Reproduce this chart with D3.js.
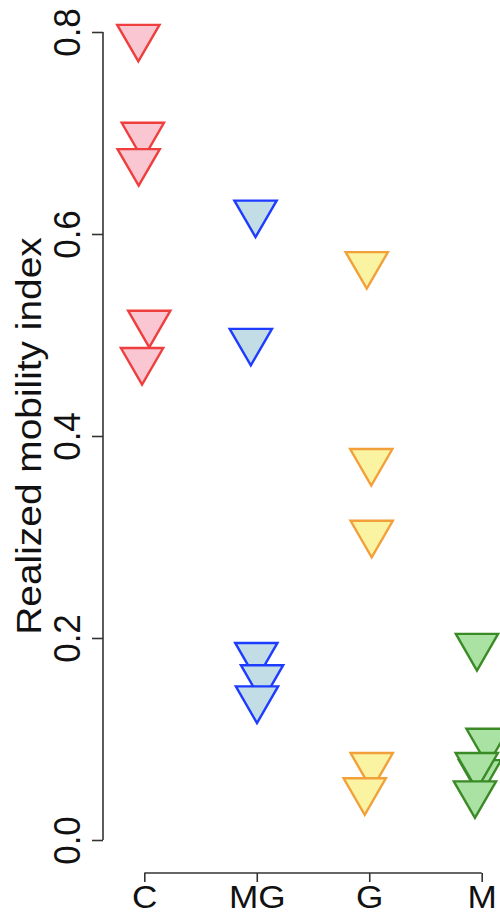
<!DOCTYPE html>
<html>
<head>
<meta charset="utf-8">
<script src="https://cdn.jsdelivr.net/npm/d3@7"></script>
<style>
  html, body { margin: 0; padding: 0; background: #fff; }
  svg { display: block; }
  text { font-family: "Liberation Sans", Arial, Helvetica, sans-serif; fill: #111; }
</style>
</head>
<body>
<script>
// Groups along the x axis
const categories = ["C", "MG", "G", "M"];

// Realized mobility index per group (drawing order within each group)
const valuesC  = [0.795, 0.698, 0.672, 0.512, 0.475];
const valuesMG = [0.621, 0.494, 0.183, 0.161, 0.140];
const valuesG  = [0.570, 0.375, 0.304, 0.074, 0.049];
const valuesM  = [0.192, 0.098, 0.067, 0.074, 0.046];

// Horizontal jitter of each point, in category units
const jitterC  = [-0.053, -0.013, -0.050, 0.044, -0.020];
const jitterMG = [-0.011, -0.053, -0.004, 0.047, 0.002];
const jitterG  = [-0.022, 0.018, 0.022, 0.022, -0.040];
const jitterM  = [-0.042, 0.052, -0.015, -0.044, -0.060];

// Y axis ticks
const yTicks = [0.0, 0.2, 0.4, 0.6, 0.8];
const yTickLabels = ["0.0", "0.2", "0.4", "0.6", "0.8"];

const groupValues = [valuesC, valuesMG, valuesG, valuesM];
const groupJitter = [jitterC, jitterMG, jitterG, jitterM];
const fills   = ["#F9C6D1", "#C2DDE6", "#FAF3A2", "#A9E2A2"];
const strokes = ["#EE3E3E", "#1E3CFF", "#F2A03A", "#3A8A26"];

const W = 500, H = 914;
const svg = d3.select("body").append("svg")
  .attr("width", W).attr("height", H);

const y = d3.scaleLinear().domain([0, 0.8]).range([840, 32]);
const x = d3.scaleLinear().domain([1, 4]).range([144.3, 481.7]);

// Y axis (R style: line spans the tick range, ticks point outward)
const yAxis = d3.axisLeft(y).tickValues(yTicks).tickSize(11)
  .tickFormat((d, i) => yTickLabels[i]);
const gy = svg.append("g").attr("transform", "translate(103,0)").call(yAxis);
gy.select(".domain").attr("d", `M0,${y(0)}V${y(0.8)}`)
  .attr("stroke", "#333").attr("stroke-width", 1.6);
gy.selectAll(".tick line").attr("stroke", "#333").attr("stroke-width", 1.6);
gy.selectAll(".tick text")
  .attr("x", 0).attr("y", 0).attr("dy", 0)
  .attr("transform", "translate(-23,0) rotate(-90) scale(1,1.08)")
  .attr("text-anchor", "middle")
  .style("font-size", "35px")
  .style("font-family", "'Liberation Sans', Arial, sans-serif")
  .attr("fill", "#111");

// X axis
const xAxis = d3.axisBottom(x).tickValues([1, 2, 3, 4]).tickSize(9)
  .tickFormat((d, i) => categories[i]);
const gx = svg.append("g").attr("transform", "translate(0,873)").call(xAxis);
gx.select(".domain").attr("d", `M${x(1)},0H${x(4)}`)
  .attr("stroke", "#333").attr("stroke-width", 1.6);
gx.selectAll(".tick line").attr("stroke", "#333").attr("stroke-width", 1.6);
gx.selectAll(".tick text")
  .attr("y", 0).attr("dy", 0)
  .attr("transform", "translate(0,35) scale(1.1,1)")
  .style("font-size", "32px")
  .style("font-family", "'Liberation Sans', Arial, sans-serif")
  .attr("fill", "#111");

// Y axis title
svg.append("text")
  .attr("transform", "translate(41,436) rotate(-90) scale(1.08,1)")
  .attr("text-anchor", "middle")
  .style("font-size", "36px")
  .text("Realized mobility index");

// Downward-pointing filled triangles
const R = 24.4;
const hw = R * Math.sqrt(3) / 2;
function tri(cx, cy) {
  return `M${cx - hw},${cy - R / 2}L${cx + hw},${cy - R / 2}L${cx},${cy + R}Z`;
}

const points = [];
groupValues.forEach((vals, gi) => {
  vals.forEach((v, j) => {
    points.push({ g: gi, v: v, jx: groupJitter[gi][j] });
  });
});

svg.append("g").selectAll("path")
  .data(points)
  .join("path")
  .attr("d", d => tri(x(d.g + 1 + d.jx), y(d.v)))
  .attr("fill", d => fills[d.g])
  .attr("stroke", d => strokes[d.g])
  .attr("stroke-width", 2.4)
  .attr("stroke-linejoin", "miter");
</script>
</body>
</html>
